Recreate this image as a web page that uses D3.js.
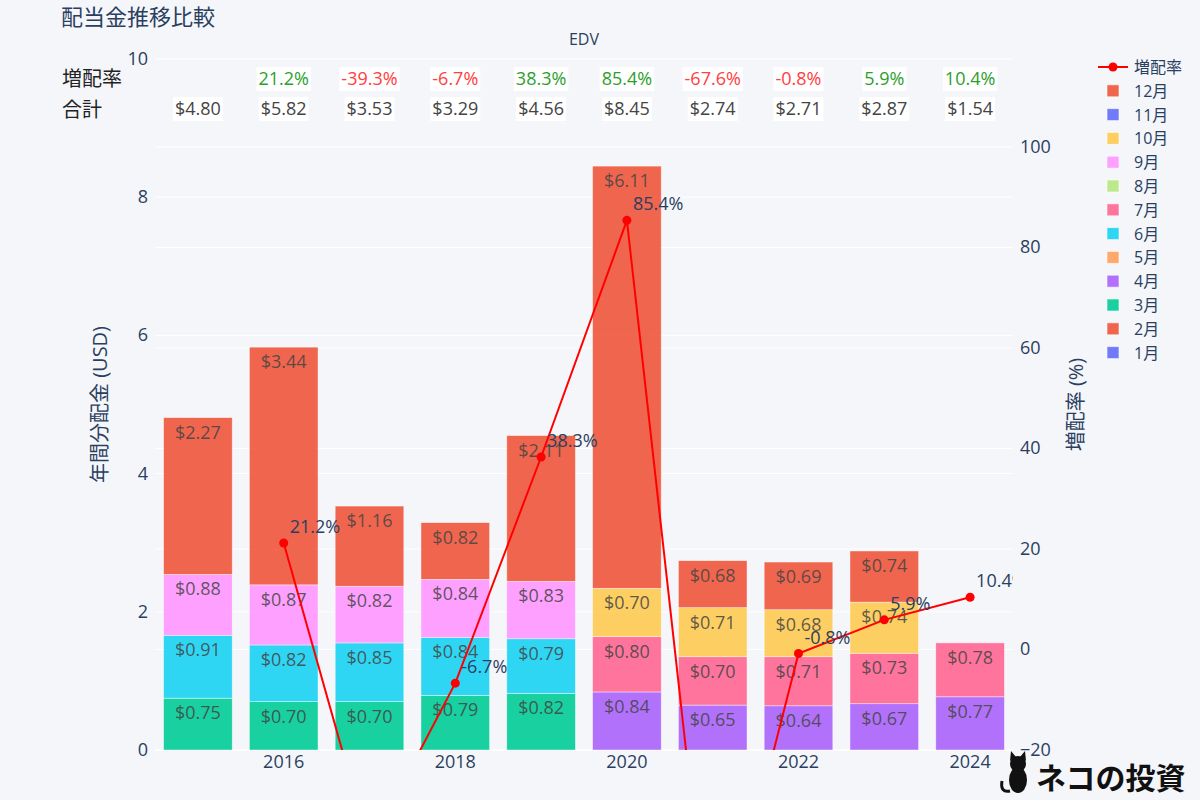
<!DOCTYPE html>
<html><head><meta charset="utf-8">
<script src="https://cdn.jsdelivr.net/npm/d3@7/dist/d3.min.js"></script>
<style>
html,body{margin:0;padding:0;background:#f5f6fa;}
text{font-family:"Open Sans","Noto Sans CJK JP",sans-serif;}
</style></head>
<body><svg id="c" width="1200" height="800"></svg>
<script>
const years = [2015,2016,2017,2018,2019,2020,2021,2022,2023,2024];
const monthNames = ["1月","2月","3月","4月","5月","6月","7月","8月","9月","10月","11月","12月"];
const monthColors = ["#636efa","#EF553B","#00cc96","#ab63fa","#FFA15A","#19d3f3","#FF6692","#B6E880","#FF97FF","#FECB52","#636efa","#EF553B"];
const m1  = [0,0,0,0,0,0,0,0,0,0];
const m2  = [0,0,0,0,0,0,0,0,0,0];
const m3  = [0.75,0.70,0.70,0.79,0.82,0,0,0,0,0];
const m4  = [0,0,0,0,0,0.84,0.65,0.64,0.67,0.77];
const m5  = [0,0,0,0,0,0,0,0,0,0];
const m6  = [0.91,0.82,0.85,0.84,0.79,0,0,0,0,0];
const m7  = [0,0,0,0,0,0.80,0.70,0.71,0.73,0.78];
const m8  = [0,0,0,0,0,0,0,0,0,0];
const m9  = [0.88,0.87,0.82,0.84,0.83,0,0,0,0,0];
const m10 = [0,0,0,0,0,0.70,0.71,0.68,0.74,0];
const m11 = [0,0,0,0,0,0,0,0,0,0];
const m12 = [2.27,3.44,1.16,0.82,2.11,6.11,0.68,0.69,0.74,0];
const totals = [4.80,5.82,3.53,3.29,4.56,8.45,2.74,2.71,2.87,1.54];
const growth = [null,21.2,-39.3,-6.7,38.3,85.4,-67.6,-0.8,5.9,10.4];
const leftTicks = [0,2,4,6,8,10];
const rightTicks = [-20,0,20,40,60,80,100];
const xTickYears = [2016,2018,2020,2022,2024];
const months = [m1,m2,m3,m4,m5,m6,m7,m8,m9,m10,m11,m12];

const svg = d3.select("#c");
const L=155, R=1013, T=59, B=750;
const x = d3.scaleBand().domain(years).range([L,R]).paddingInner(0.2).paddingOuter(0.1);
const y = d3.scaleLinear().domain([0,10]).range([B,T]);
const y2 = d3.scaleLinear().domain([-20,117.5]).range([B,T]);
const axisCol = "#2a3f5f";

svg.append("rect").attr("width",1200).attr("height",800).attr("fill","#f5f6fa");

// gridlines
const grid = svg.append("g");
grid.selectAll(".gl").data(leftTicks).join("line")
  .attr("x1",L).attr("x2",R).attr("y1",d=>y(d)).attr("y2",d=>y(d))
  .attr("stroke","#fff").attr("stroke-width",1);
grid.selectAll(".gr").data(rightTicks).join("line")
  .attr("x1",L).attr("x2",R).attr("y1",d=>y2(d)).attr("y2",d=>y2(d))
  .attr("stroke","#fff").attr("stroke-width",1);

svg.append("defs").append("clipPath").attr("id","plotclip")
  .append("rect").attr("x",L).attr("y",T).attr("width",R-L).attr("height",B-T);

// stacked bars
const stackData = years.map((yr,i)=>{const o={year:yr}; months.forEach((m,k)=>o[k]=m[i]); return o;});
const stack = d3.stack().keys(d3.range(12))(stackData);
const barG = svg.append("g");
stack.forEach((layer,k)=>{
  layer.forEach((s,i)=>{
    const v = s[1]-s[0];
    if(v<=0) return;
    barG.append("rect")
      .attr("x",x(years[i])).attr("width",x.bandwidth())
      .attr("y",y(s[1])).attr("height",y(s[0])-y(s[1]))
      .attr("fill",monthColors[k]).attr("fill-opacity",0.9)
      .attr("stroke","#fff").attr("stroke-opacity",0.6).attr("stroke-width",0.7);
  });
});
stack.forEach((layer,k)=>{
  layer.forEach((s,i)=>{
    const v = s[1]-s[0];
    if(v<=0) return;
    barG.append("text")
      .attr("x",x(years[i])+x.bandwidth()/2).attr("y",y(s[1])+21)
      .attr("text-anchor","middle").attr("font-size",18)
      .attr("fill","#444").attr("fill-opacity",0.85)
      .text("$"+v.toFixed(2));
  });
});

// growth line
const lg = svg.append("g").attr("clip-path","url(#plotclip)");
const pts = years.map((yr,i)=>({yr,v:growth[i]})).filter(d=>d.v!==null);
const cx = d=>x(d.yr)+x.bandwidth()/2;
lg.append("path").datum(pts)
  .attr("d",d3.line().x(cx).y(d=>y2(d.v)))
  .attr("fill","none").attr("stroke","#ff0000").attr("stroke-width",2);
lg.selectAll("circle").data(pts).join("circle")
  .attr("cx",cx).attr("cy",d=>y2(d.v)).attr("r",4.5).attr("fill","#ff0000");
lg.selectAll("text").data(pts).join("text")
  .attr("x",d=>cx(d)+6).attr("y",d=>y2(d.v)-10)
  .attr("font-size",18).attr("fill",axisCol)
  .text(d=>d.v.toFixed(1)+"%");

// axes
const ax = svg.append("g").attr("fill",axisCol).attr("font-size",18);
ax.selectAll(".lt").data(leftTicks).join("text")
  .attr("x",L-7).attr("y",d=>y(d)+6).attr("text-anchor","end").text(d=>d);
ax.selectAll(".rt").data(rightTicks).join("text")
  .attr("x",R+7).attr("y",d=>y2(d)+6).attr("text-anchor","start")
  .text(d=>d<0?"\u2212"+Math.abs(d):d);
ax.selectAll(".xt").data(xTickYears).join("text")
  .attr("x",d=>x(d)+x.bandwidth()/2).attr("y",B+18).attr("text-anchor","middle").text(d=>d);

svg.append("text").attr("transform",`translate(107,${(T+B)/2}) rotate(-90)`)
  .attr("text-anchor","middle").attr("font-size",20).attr("fill",axisCol).text("年間分配金 (USD)");
svg.append("text").attr("transform",`translate(1083,${(T+B)/2}) rotate(-90)`)
  .attr("text-anchor","middle").attr("font-size",20).attr("fill",axisCol).text("増配率 (%)");

// titles
svg.append("text").attr("x",61).attr("y",25).attr("font-size",22).attr("fill",axisCol).text("配当金推移比較");
svg.append("text").attr("x",(L+R)/2).attr("y",45).attr("text-anchor","middle").attr("font-size",16).attr("fill",axisCol).text("EDV");

// table rows
svg.append("text").attr("x",62).attr("y",86).attr("font-size",20).attr("fill","#222").text("増配率");
svg.append("text").attr("x",62).attr("y",117).attr("font-size",20).attr("fill","#222").text("合計");
function boxText(cxv, cyv, str, col){
  const g = svg.append("g");
  const t = g.append("text").attr("x",cxv).attr("y",cyv+6).attr("text-anchor","middle")
    .attr("font-size",18).attr("fill",col).text(str);
  const bb = t.node().getBBox();
  g.insert("rect","text").attr("x",bb.x-2).attr("y",cyv-12).attr("width",bb.width+4).attr("height",24).attr("fill","#fff");
}
years.forEach((yr,i)=>{
  const c = x(yr)+x.bandwidth()/2;
  if(growth[i]!==null) boxText(c,79,growth[i].toFixed(1)+"%",growth[i]>=0?"#2ca02c":"#ff4040");
  boxText(c,109,"$"+totals[i].toFixed(2),"#444");
});

// legend
const lgd = svg.append("g");
const ly0 = 67, lstep = 23.8;
lgd.append("line").attr("x1",1098).attr("x2",1128).attr("y1",ly0).attr("y2",ly0).attr("stroke","#ff0000").attr("stroke-width",2);
lgd.append("circle").attr("cx",1113).attr("cy",ly0).attr("r",4.5).attr("fill","#ff0000");
lgd.append("text").attr("x",1134).attr("y",ly0+6).attr("font-size",16).attr("fill",axisCol).text("増配率");
const legendOrder = d3.range(11,-1,-1);
legendOrder.forEach((k,j)=>{
  const yy = ly0+lstep*(j+1);
  lgd.append("rect").attr("x",1107).attr("y",yy-6).attr("width",12).attr("height",12)
    .attr("fill",monthColors[k]).attr("fill-opacity",0.9).attr("stroke","#fff").attr("stroke-opacity",0.6);
  lgd.append("text").attr("x",1134).attr("y",yy+6).attr("font-size",16).attr("fill",axisCol).text(monthNames[k]);
});

// logo
const logo = svg.append("g").attr("fill","#111");
logo.append("ellipse").attr("cx",1018).attr("cy",780).attr("rx",9).attr("ry",13);
logo.append("circle").attr("cx",1018).attr("cy",764).attr("r",8);
logo.append("path").attr("d","M1010,761 L1011,751 L1016,757 Z M1026,761 L1025,751 L1020,757 Z");
logo.append("path").attr("d","M1010,791 Q1000,793 1002,781").attr("stroke","#111").attr("stroke-width",3).attr("fill","none");
logo.append("text").attr("x",1036).attr("y",789).attr("font-size",30).attr("font-weight","bold")
  .attr("font-family","'Noto Sans CJK JP',sans-serif").attr("fill","#111").text("ネコの投資");
</script></body></html>
